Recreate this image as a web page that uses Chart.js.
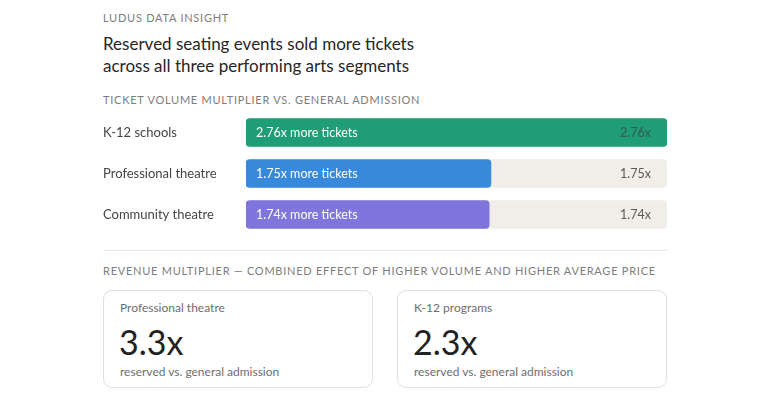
<!DOCTYPE html>
<html>
<head>
<meta charset="utf-8">
<script src="https://cdn.jsdelivr.net/npm/chart.js@4.4.0/dist/chart.umd.min.js"></script>
<style>
  html, body { margin: 0; padding: 0; background: #ffffff; }
  body { width: 770px; height: 400px; position: relative; overflow: hidden;
         font-family: Lato, "Noto Sans", sans-serif; color: #2b2b2b; }
  .eyebrow { position: absolute; left: 103px; font-size: 11px; letter-spacing: 0.75px;
             color: #7d7d7d; line-height: 14px; white-space: nowrap; }
  .title { position: absolute; left: 103px; top: 33px; font-size: 17px; line-height: 22px;
           color: #262626; }
  .divider { position: absolute; left: 103px; width: 564px; top: 250px; height: 1px; background: #ebe8e3; }
  .card { position: absolute; top: 290px; height: 98px; border: 1px solid #e2dfda; border-radius: 9px;
          box-sizing: border-box; }
  .card .lab { position: absolute; left: 16px; top: 9px; font-size: 12px; line-height: 16px; color: #6e6e6e; white-space: nowrap; }
  .card .big { position: absolute; left: 15px; top: 30px; font-size: 34px; line-height: 42px; color: #222; }
  .card .sub { position: absolute; left: 16px; top: 73px; font-size: 12px; line-height: 16px; color: #6e6e6e; white-space: nowrap; }
  #c { position: absolute; left: 103px; top: 112px; }
</style>
</head>
<body>
<div class="eyebrow" style="top:11px">LUDUS DATA INSIGHT</div>
<div class="title">Reserved seating events sold more tickets<br>across all three performing arts segments</div>
<div class="eyebrow" style="top:93px">TICKET VOLUME MULTIPLIER VS. GENERAL ADMISSION</div>
<canvas id="c" width="564" height="123"></canvas>
<div class="divider"></div>
<div class="eyebrow" style="top:264px">REVENUE MULTIPLIER — COMBINED EFFECT OF HIGHER VOLUME AND HIGHER AVERAGE PRICE</div>
<div id="cards"></div>
<script>
const segments = ["K-12 schools", "Professional theatre", "Community theatre"];
const ticketMultiplier = [2.76, 1.75, 1.74];
const barColors = ["#1f9e76", "#3789dc", "#7f76dd"];
const revenueSegments = ["Professional theatre", "K-12 programs"];
const revenueMultiplier = [3.3, 2.3];
const revenueNote = "reserved vs. general admission";

const axisMin = 0.345;
const axisMax = Math.max(...ticketMultiplier);
const FONT = 'Lato, "Noto Sans", sans-serif';

// cards
const cardsEl = document.getElementById('cards');
const cardLefts = [103, 397];
revenueSegments.forEach((s, i) => {
  const d = document.createElement('div');
  d.className = 'card';
  d.style.left = cardLefts[i] + 'px';
  d.style.width = '270px';
  d.innerHTML = '<div class="lab"></div><div class="big"></div><div class="sub"></div>';
  d.querySelector('.lab').textContent = s;
  d.querySelector('.big').textContent = revenueMultiplier[i].toFixed(1) + 'x';
  d.querySelector('.sub').textContent = revenueNote;
  cardsEl.appendChild(d);
});

const barLabels = {
  id: 'barLabels',
  afterDatasetsDraw(chart) {
    const ctx = chart.ctx;
    const meta = chart.getDatasetMeta(1);
    const track = chart.getDatasetMeta(0);
    ctx.save();
    ctx.font = '12.5px ' + FONT;
    ctx.textBaseline = 'middle';
    meta.data.forEach((bar, i) => {
      const v = ticketMultiplier[i];
      const props = bar.getProps(['x', 'y', 'base'], true);
      ctx.fillStyle = '#ffffff';
      ctx.textAlign = 'left';
      ctx.fillText(v.toFixed(2) + 'x more tickets', props.base + 10, props.y);
      const tp = track.data[i].getProps(['x', 'y'], true);
      ctx.textAlign = 'right';
      ctx.fillStyle = i === 0 ? 'rgba(60,60,60,0.7)' : '#5a5a5a';
      ctx.fillText(v.toFixed(2) + 'x', tp.x - 16, props.y);
    });
    ctx.restore();
  }
};

new Chart(document.getElementById('c'), {
  type: 'bar',
  data: {
    labels: segments,
    datasets: [
      { data: segments.map(() => axisMax), base: axisMin, backgroundColor: '#f1eee9', grouped: false,
        barThickness: 28, borderRadius: 4, borderSkipped: false, order: 2 },
      { data: ticketMultiplier, base: axisMin, backgroundColor: barColors, grouped: false,
        barThickness: 28, borderRadius: 4, borderSkipped: false, order: 1 }
    ]
  },
  options: {
    indexAxis: 'y',
    responsive: false,
    animation: false,
    devicePixelRatio: 1,
    layout: { padding: 0 },
    plugins: { legend: { display: false }, tooltip: { enabled: false } },
    scales: {
      x: { min: axisMin, max: axisMax, display: false },
      y: {
        grid: { display: false }, border: { display: false },
        afterFit(scale) { scale.width = 143; scale.paddingTop = 0; scale.paddingBottom = 0; },
        ticks: { crossAlign: 'far', padding: 0, color: '#454545',
                 font: { family: FONT, size: 13 } }
      }
    }
  },
  plugins: [barLabels]
});
</script>
</body>
</html>
